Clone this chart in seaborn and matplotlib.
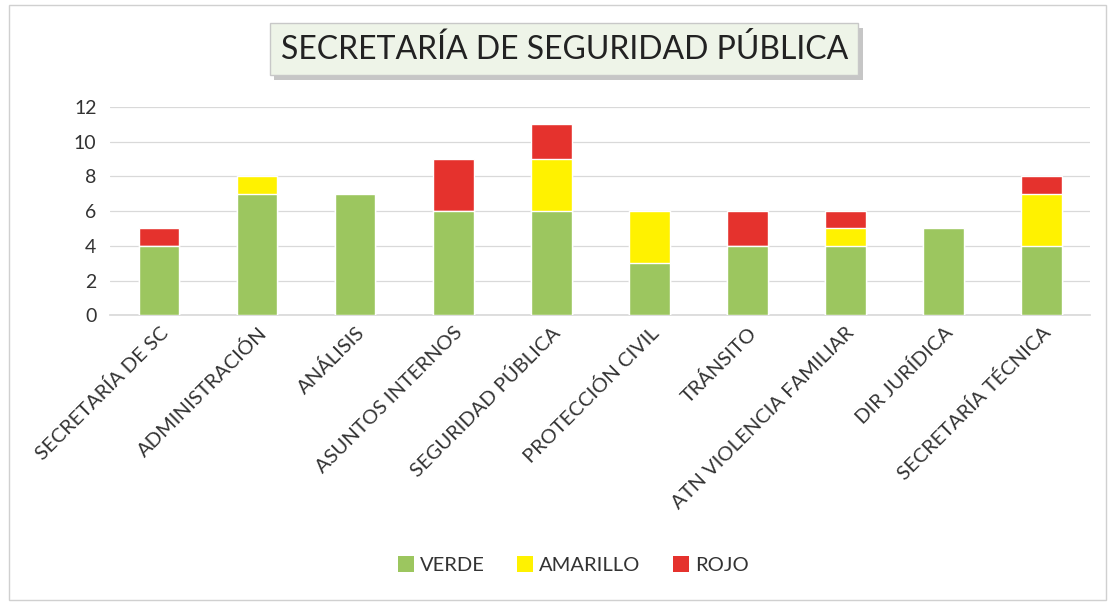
import matplotlib
matplotlib.use("Agg")
import matplotlib.pyplot as plt
from matplotlib.patches import Rectangle, Patch
import pandas as pd
import seaborn as sns

AREAS = ['SECRETARÍA DE SC', 'ADMINISTRACIÓN', 'ANÁLISIS', 'ASUNTOS INTERNOS',
         'SEGURIDAD PÚBLICA', 'PROTECCIÓN CIVIL', 'TRÁNSITO',
         'ATN VIOLENCIA FAMILIAR', 'DIR JURÍDICA', 'SECRETARÍA TÉCNICA']
VERDE = [4, 7, 7, 6, 6, 3, 4, 4, 5, 4]
AMARILLO = [0, 1, 0, 0, 3, 3, 0, 1, 0, 3]
ROJO = [1, 0, 0, 3, 2, 0, 2, 1, 0, 1]

COLORS = {'VERDE': '#9cc65f', 'AMARILLO': '#fff200', 'ROJO': '#e5322d'}

sns.set_theme(style="white")
plt.rcParams['font.family'] = ['Lato', 'DejaVu Sans']

df = pd.DataFrame({'area': AREAS, 'VERDE': VERDE, 'AMARILLO': AMARILLO, 'ROJO': ROJO})
# cumulative heights, drawn back to front to get stacked bars
df['c_verde'] = df['VERDE']
df['c_amarillo'] = df['c_verde'] + df['AMARILLO']
df['c_rojo'] = df['c_amarillo'] + df['ROJO']

fig = plt.figure(figsize=(11.15, 6.05), dpi=100)
ax = fig.add_axes([0.099, 0.479, 0.879, 0.344])

for col, name in [('c_rojo', 'ROJO'), ('c_amarillo', 'AMARILLO'), ('c_verde', 'VERDE')]:
    sns.barplot(data=df, x='area', y=col, color=COLORS[name], width=0.41,
                saturation=1, ax=ax, zorder=3)

ax.set_ylim(0, 12)
ax.set_xlim(-0.5, len(AREAS) - 0.5)
ax.set_yticks(range(0, 13, 2))
ax.yaxis.grid(True, color='#d9d9d9', linewidth=0.9, zorder=0)
ax.set_xlabel('')
ax.set_ylabel('')
for s in ['top', 'right', 'left']:
    ax.spines[s].set_visible(False)
ax.spines['bottom'].set_color('#d9d9d9')
ax.tick_params(axis='y', labelsize=14, colors='#333333', length=0, pad=10)
ax.tick_params(axis='x', labelsize=14.5, colors='#333333', length=0, pad=6)
plt.setp(ax.get_xticklabels(), rotation=45, ha='right', rotation_mode='anchor')

# title box, shadow drawn as a rectangle behind it
title = fig.text(0.506, 0.919, 'SECRETARÍA DE SEGURIDAD PÚBLICA', fontsize=23, color='#222222',
                 ha='center', va='center', zorder=5,
                 bbox=dict(boxstyle='square,pad=0.33', facecolor='#eef4e8', edgecolor='#c8c8c8'))
fig.canvas.draw()
bb = title.get_bbox_patch().get_window_extent().transformed(fig.transFigure.inverted())
fig.patches.append(Rectangle((bb.x0 + 0.004, bb.y0 - 0.008), bb.width, bb.height,
                             transform=fig.transFigure, facecolor='#a0a0a0', edgecolor='none',
                             alpha=0.6, zorder=1))

handles = [Patch(facecolor=COLORS[n], edgecolor='none', label=n) for n in ['VERDE', 'AMARILLO', 'ROJO']]
fig.legend(handles=handles, loc='center', bbox_to_anchor=(0.514, 0.066), ncol=3, frameon=False,
           fontsize=14.5, handlelength=0.8, handleheight=0.8, handletextpad=0.3, columnspacing=1.6,
           labelcolor='#333333')

fig.patches.append(Rectangle((0.008, 0.008), 0.984, 0.984, transform=fig.transFigure,
                             fill=False, edgecolor='#d0d0d0', linewidth=1))

fig.savefig('out.png', dpi=100, facecolor='white')
